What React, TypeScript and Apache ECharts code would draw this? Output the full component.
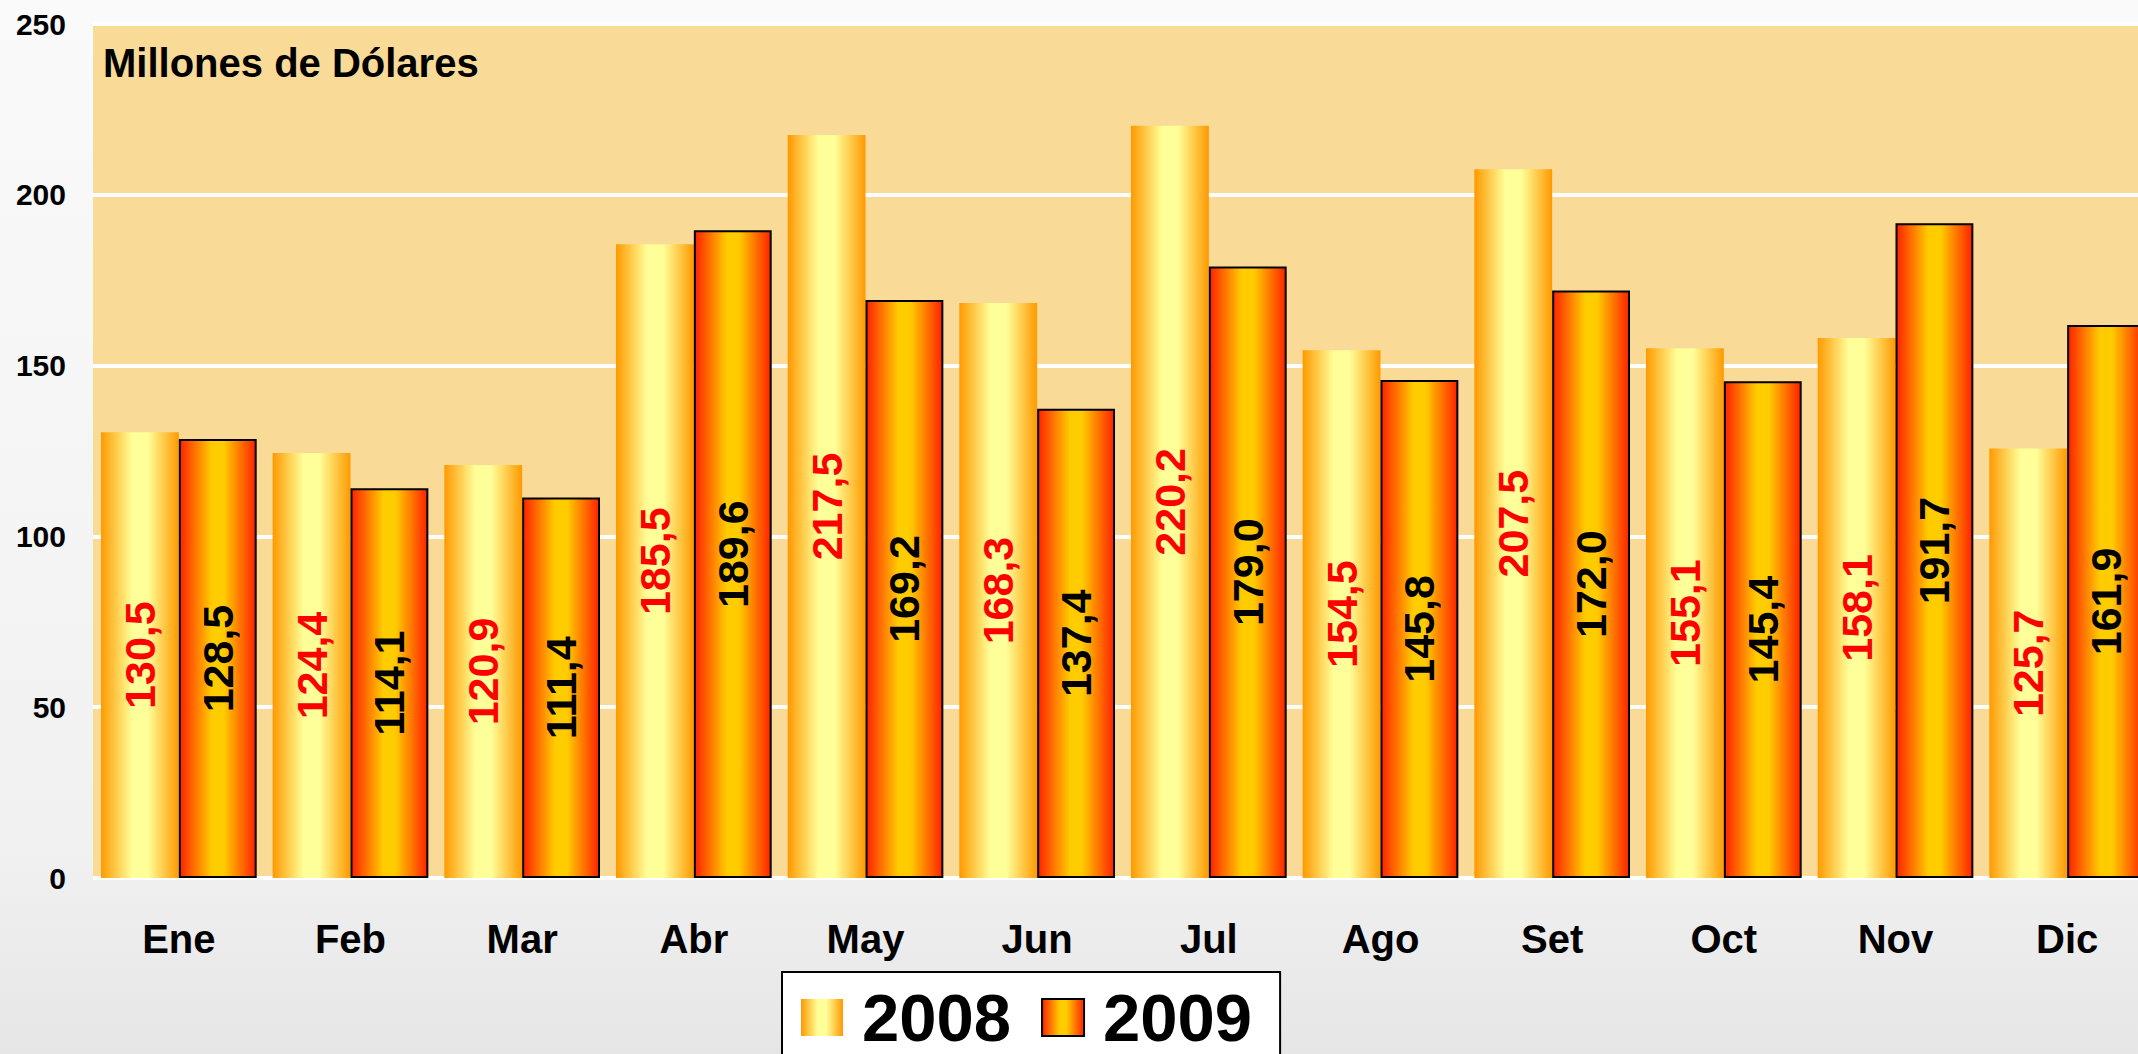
import React, { useEffect, useRef } from "react";
import * as echarts from "echarts";

const months = ["Ene", "Feb", "Mar", "Abr", "May", "Jun", "Jul", "Ago", "Set", "Oct", "Nov", "Dic"];
const values2008 = [130.5, 124.4, 120.9, 185.5, 217.5, 168.3, 220.2, 154.5, 207.5, 155.1, 158.1, 125.7];
const values2009 = [128.5, 114.1, 111.4, 189.6, 169.2, 137.4, 179.0, 145.8, 172.0, 145.4, 191.7, 161.9];
const seriesNames = ["2008", "2009"];
const unitLabel = "Millones de Dólares";

const FONT = 'Arial, "Liberation Sans", sans-serif';
const fmt = (v: number) => v.toFixed(1).replace(".", ",");

export default function App() {
  const ref = useRef<HTMLDivElement>(null);
  useEffect(() => {
    if (!ref.current) return;
    const chart = echarts.init(ref.current, undefined, { renderer: "svg" });
    const grad2008 = new echarts.graphic.LinearGradient(0, 0, 1, 0, [
      { offset: 0, color: "#FF9900" },
      { offset: 0.4, color: "#FFFF99" },
      { offset: 0.6, color: "#FFFF99" },
      { offset: 1, color: "#FF9900" },
    ]);
    const grad2009 = new echarts.graphic.LinearGradient(0, 0, 1, 0, [
      { offset: 0, color: "#FF2200" },
      { offset: 0.42, color: "#FFCC00" },
      { offset: 0.58, color: "#FFCC00" },
      { offset: 1, color: "#FF2200" },
    ]);
    chart.setOption({
      animation: false,
      backgroundColor: new echarts.graphic.LinearGradient(0, 0, 0, 1, [
        { offset: 0, color: "#FAFAFA" },
        { offset: 0.8, color: "#F1F1F1" },
        { offset: 1, color: "#E6E6E6" },
      ]),
      title: {
        text: unitLabel,
        left: 103,
        top: 43,
        padding: 0,
        textStyle: { fontFamily: FONT, fontSize: 40, fontWeight: "bold", color: "#000" },
      },
      grid: {
        left: 93,
        right: -15,
        top: 24,
        bottom: 176,
        show: true,
        backgroundColor: "#F9DB97",
        borderWidth: 0,
        containLabel: false,
        outerBoundsMode: "none",
      },
      legend: {
        data: seriesNames,
        left: 782,
        top: 972,
        padding: [12, 28, 30, 19],
        itemGap: 30,
        itemWidth: 42,
        itemHeight: 37,
        icon: "rect",
        backgroundColor: "#FFFFFF",
        borderColor: "#000000",
        borderWidth: 2,
        textStyle: {
          fontFamily: FONT,
          fontSize: 67,
          lineHeight: 50,
          fontWeight: "bold",
          color: "#000",
          padding: [0, 0, 0, 14],
        },
      },
      xAxis: {
        type: "category",
        data: months,
        axisLine: { show: false },
        axisTick: { show: false },
        axisLabel: {
          margin: 41,
          fontFamily: FONT,
          fontSize: 40,
          fontWeight: "bold",
          color: "#000",
        },
      },
      yAxis: {
        type: "value",
        min: 0,
        max: 250,
        interval: 50,
        axisLine: { show: false },
        axisTick: { show: false },
        axisLabel: {
          margin: 27,
          fontFamily: FONT,
          fontSize: 30,
          fontWeight: "bold",
          color: "#000",
        },
        splitLine: { show: true, lineStyle: { color: "#FFFFFF", width: 4 } },
      },
      series: [
        {
          name: seriesNames[0],
          type: "bar",
          data: values2008,
          barGap: "0%",
          barCategoryGap: "9.3%",
          itemStyle: { color: grad2008, borderWidth: 0 },
          label: {
            show: true,
            position: "inside",
            rotate: 90,
            formatter: (p: any) => fmt(p.value),
            fontFamily: FONT,
            fontSize: 43,
            fontWeight: "bold",
            color: "#FF0000",
          },
        },
        {
          name: seriesNames[1],
          type: "bar",
          data: values2009,
          barGap: "0%",
          barCategoryGap: "9.3%",
          itemStyle: { color: grad2009, borderColor: "#000000", borderWidth: 2 },
          label: {
            show: true,
            position: "inside",
            rotate: 90,
            formatter: (p: any) => fmt(p.value),
            fontFamily: FONT,
            fontSize: 43,
            fontWeight: "bold",
            color: "#000000",
          },
        },
      ],
    });
    return () => chart.dispose();
  }, []);
  return (
    <div
      ref={ref}
      style={{ position: "fixed", left: 0, top: 0, width: 2138, height: 1054 }}
    />
  );
}
